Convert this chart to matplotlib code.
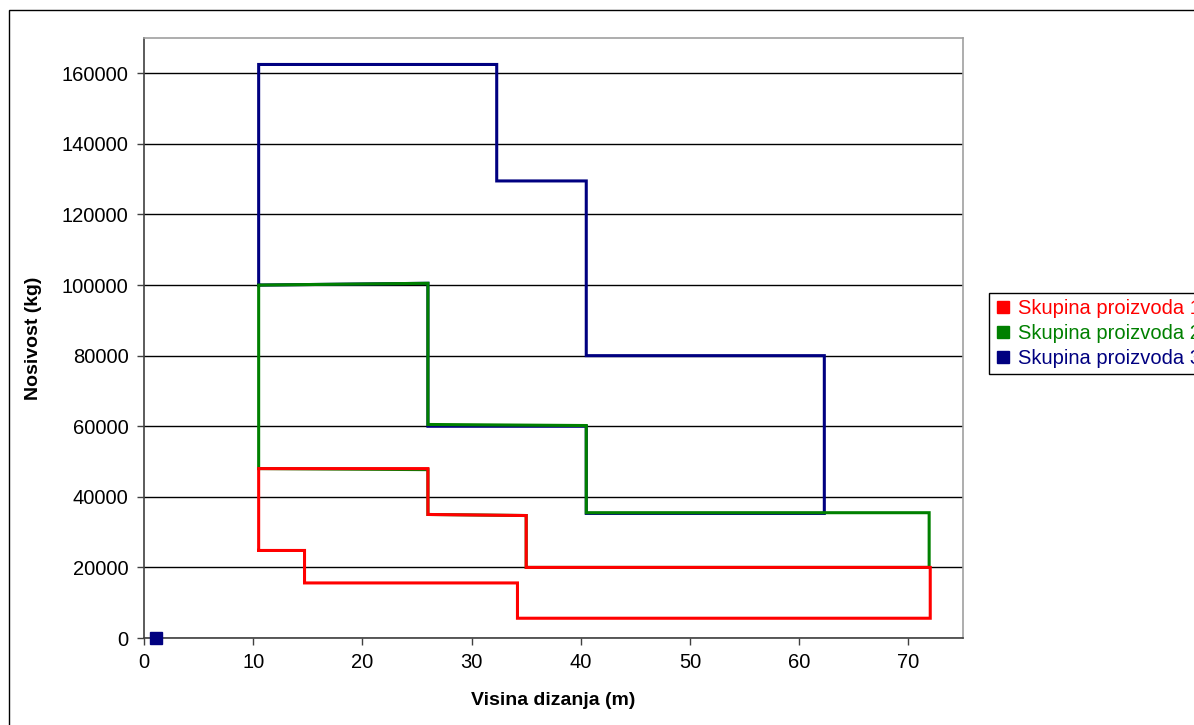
import matplotlib
matplotlib.use("Agg")
import matplotlib.pyplot as plt
from matplotlib.lines import Line2D
from matplotlib.patches import Rectangle
from matplotlib.ticker import FuncFormatter

plt.rcParams['font.family'] = ['Liberation Sans', 'DejaVu Sans']

# Skupina proizvoda 1 (red)
x1 = [10.5, 10.5, 26.0, 26.0, 35.0, 35.0, 72.0, 72.0, 34.2, 34.2, 14.7, 14.7, 10.5]
y1 = [24800, 48000, 48000, 35000, 34700, 20000, 20000, 5600, 5600, 15600, 15600, 24800, 24800]

# Skupina proizvoda 2 (green)
x2 = [10.5, 10.5, 26.0, 26.0, 40.5, 40.5, 71.9, 71.9, 35.0, 35.0, 26.0, 26.0, 10.5]
y2 = [48000, 100000, 100500, 60500, 60200, 35500, 35500, 20000, 20000, 34700, 35000, 47700, 48000]

# Skupina proizvoda 3 (blue)
x3 = [10.5, 10.5, 32.3, 32.3, 40.5, 40.5, 62.3, 62.3, 40.5, 40.5, 26.0, 26.0, 10.5]
y3 = [100000, 162500, 162500, 129500, 129500, 80000, 80000, 35300, 35300, 60000, 60000, 100500, 100000]

# lone marker point
xm = [1.1]
ym = [0]

labels = ['Skupina proizvoda 1', 'Skupina proizvoda 2', 'Skupina proizvoda 3']
colors = ['#FF0000', '#008000', '#000080']

fig = plt.figure(figsize=(11.94, 7.25), dpi=100)
ax = fig.add_axes([144 / 1194, 1 - 638 / 725, (963 - 144) / 1194, (638 - 38) / 725])

# draw series 3 first so series 1 ends up on top
for xs, ys, c in zip([x3, x2, x1], [y3, y2, y1], colors[::-1]):
    ax.plot(xs, ys, color=c, linewidth=2.2, solid_joinstyle='miter', zorder=3)
ax.plot(xm, ym, 's', color=colors[2], markersize=8.5, clip_on=False, zorder=4)

ax.set_xlim(0, 75)
ax.set_ylim(0, 170000)
ax.set_xticks(range(0, 71, 10))
ax.set_yticks(range(0, 160001, 20000))
ax.yaxis.set_major_formatter(FuncFormatter(lambda v, p: f'{int(v)}'))
ax.tick_params(axis='both', labelsize=14.5, direction='out', length=5, width=1,
               color='#404040', pad=6)
ax.grid(axis='y', color='black', linewidth=1)
ax.set_axisbelow(True)

ax.spines['left'].set_color('#404040')
ax.spines['bottom'].set_color('#404040')
ax.spines['top'].set_color('#a0a0a0')
ax.spines['right'].set_color('#a0a0a0')
for s in ax.spines.values():
    s.set_linewidth(1.2)

ax.set_xlabel('Visina dizanja (m)', fontsize=14, fontweight='bold', labelpad=14)
ax.set_ylabel('Nosivost (kg)', fontsize=14, fontweight='bold', labelpad=14)

handles = [Line2D([], [], linestyle='none', marker='s', markersize=9, color=c) for c in colors]
leg = fig.legend(handles, labels, loc='upper left', bbox_to_anchor=(989 / 1194, 1 - 293 / 725),
                 bbox_transform=fig.transFigure, borderaxespad=0, fontsize=14.5,
                 handlelength=0.8, handletextpad=0.35, labelspacing=0.3,
                 borderpad=0.3, fancybox=False, framealpha=1)
leg.get_frame().set_edgecolor('black')
leg.get_frame().set_linewidth(1)
for t, c in zip(leg.get_texts(), colors):
    t.set_color(c)

# chart area border
fig.patches.append(Rectangle((9 / 1194, -0.1), 1.2, 1.1 - 10 / 725, transform=fig.transFigure,
                             fill=False, edgecolor='black', linewidth=1))

plt.savefig('out.png', dpi=100)
plt.close()
